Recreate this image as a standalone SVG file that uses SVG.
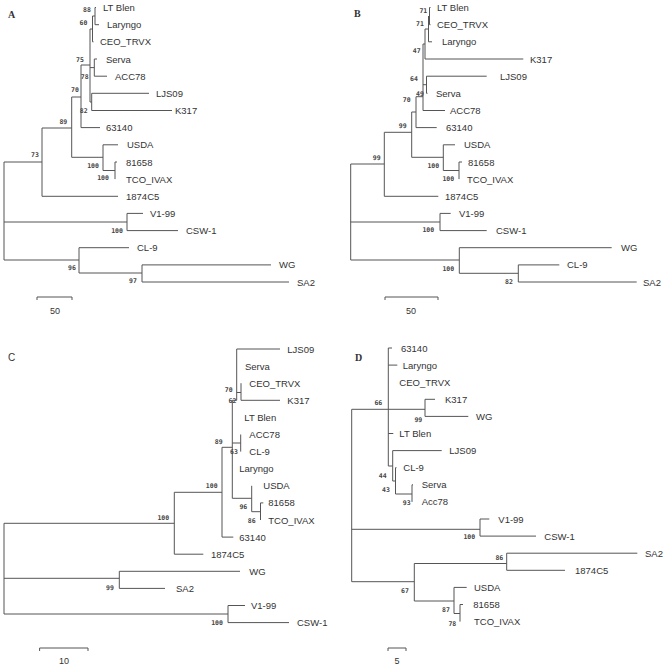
<svg xmlns="http://www.w3.org/2000/svg" width="666" height="665" viewBox="0 0 666 665">
<style>
.br{fill:none;stroke:#555;stroke-width:1}
.t{font-family:"Liberation Sans",Arial,sans-serif;font-size:9.5px;fill:#333}
.b{font-family:"DejaVu Sans Mono","Liberation Mono",monospace;font-size:6.5px;font-weight:bold;fill:#444;text-anchor:middle}
.ps{font-family:"Liberation Serif",serif;font-size:10px;font-weight:bold;fill:#333}
.pc{font-family:"Liberation Sans",sans-serif;font-size:10px;fill:#333}
.sc{font-family:"Liberation Sans",sans-serif;font-size:9px;fill:#333;text-anchor:middle}
</style>
<rect width="666" height="665" fill="#fff"/>
<g id="connectors">
<path class="br" d="M95,7.5V24.7M95,7.5H96M95,24.7H99M92.5,16V41.8M92.5,16H95M92.5,41.8H93.5M94.3,59V76.2M94.3,59H97M94.3,76.2H107M91.7,93.3V110.5M91.7,93.3H149M91.7,110.5H172M90,29V102M90,29H92.5M90,67.6H94.3M90,102H91.7M81,65V127.6M81,65H90M81,127.6H100M71.7,97V157.3M71.7,97H81M71.7,157.3H103M103,144.8V170.5M103,144.8H118M103,170.5H115M115,162V179.1M115,162H117M42,128V196.3M42,128H71.7M42,196.3H118M4,162V260M4,162H42M4,222H127M4,260H79M127,213.4V230.6M127,213.4H143M127,230.6H178M79,247.7V273M79,247.7H129M79,273H142M142,264.9V282M142,264.9H271M142,282H289"/>
<path class="br" d="M429.5,7.5V24.7M429.5,7.5H430.5M429.5,24.7H430.5M428.5,16V41.8M428.5,41.8H432M425,29V59M425,29H428.5M425,59H523.3M426.5,76.2V93.3M426.5,76.2H486.7M426.5,93.3H427.5M423,44V110.5M423,44H425M423,84.7H426.5M423,110.5H445M416,96.7V127.6M416,96.7H423M416,127.6H436.7M411.7,112V157.3M411.7,112H416M411.7,157.3H443.3M443.3,144.8V170.5M443.3,144.8H455M443.3,170.5H459M459,162V179.1M459,162H462M384.3,132.3V196.3M384.3,132.3H411.7M384.3,196.3H438.3M350.7,164V260M350.7,164H384.3M350.7,222H440M350.7,260H459.3M440,213.4V230.6M440,213.4H450.7M440,230.6H486.7M459.3,247.7V273.3M459.3,247.7H611.7M459.3,273.3H518.3M518.3,264.9V282M518.3,264.9H559.3M518.3,282H636.7"/>
<path class="br" d="M236.7,349H280M236.7,349V400.3M241,383.2V400.3M236.7,392.5H241M241,400.3H280M232.3,400.3H236.7M232.3,400.3V498.3M240.7,434.5V451.6M232.3,443H240.7M232.3,498.3H251.7M251.7,485.8V511.7M251.7,511.7H260.5M260.5,502.9V520M260.5,502.9H263.3M222,447.3H232.3M222,447.3V537.1M222,537.1H233.3M174.3,492.3H222M174.3,492.3V554.2M174.3,554.2H203.3M4,523.3H174.3M4,523.3V614M4,578.3H119.3M119.3,571.3V588.4M119.3,571.3H240M119.3,588.4H165M4,614H228M228,605.5V622.6M228,605.5H245M228,622.6H289"/>
<path class="br" d="M388.3,348V466M388.3,348H392M388.3,365.1H397.3M388.3,433.5H393.3M351.7,409.3H425M425,399.3V416.4M425,399.3H435M425,416.4H468.3M388.3,466H392.7M392.7,450.6V481M392.7,450.6H441.7M392.7,481H395.5M395.5,467.7V494M395.5,467.7H396.5M395.5,494H412M412,484.8V501.9M412,484.8H413M351.7,409.3V581.7M351.7,529.3H480M480,519V536.1M480,519H489.3M480,536.1H536M351.7,581.7H414.3M414.3,563.5V601M414.3,563.5H506.7M506.7,553.2V570.3M506.7,553.2H637.3M506.7,570.3H565M414.3,601H454M454,587.4V613.5M454,587.4H466.7M454,613.5H460M460,604.5V621.6M460,604.5H463"/>
<path class="br" d="M37,297H72M37,297V300M72,297V300M385,297H438M385,297V300M438,297V300M39.6,648H88M39.6,648V651M88,648V651M388,648H406M388,648V651M406,648V651"/>
</g>
<g id="panel-letters">
<text class="ps" x="8" y="18">A</text>
<text class="ps" x="354" y="17">B</text>
<text class="pc" x="8" y="361">C</text>
<text class="ps" x="355" y="361">D</text>
</g>
<g id="scale-labels">
<text class="sc" x="55" y="314">50</text>
<text class="sc" x="411" y="314">50</text>
<text class="sc" x="64" y="664">10</text>
<text class="sc" x="397" y="664">5</text>
</g>
<g id="tips-A" class="t">
<g id="A-LTBlen"><text x="103" y="11">LT Blen</text></g>
<g id="A-Laryngo"><text x="107" y="28.2">Laryngo</text></g>
<g id="A-CEO"><text x="100" y="45.3">CEO_TRVX</text></g>
<g id="A-Serva"><text x="106" y="62.5">Serva</text></g>
<g id="A-ACC78"><text x="115" y="79.7">ACC78</text></g>
<g id="A-LJS09"><text x="156" y="96.8">LJS09</text></g>
<g id="A-K317"><text x="175" y="114">K317</text></g>
<g id="A-63140"><text x="106" y="131.1">63140</text></g>
<g id="A-USDA"><text x="127" y="148.3">USDA</text></g>
<g id="A-81658"><text x="126" y="165.5">81658</text></g>
<g id="A-TCO"><text x="126" y="182.6">TCO_IVAX</text></g>
<g id="A-1874C5"><text x="126" y="199.8">1874C5</text></g>
<g id="A-V199"><text x="150" y="216.9">V1-99</text></g>
<g id="A-CSW1"><text x="186" y="234.1">CSW-1</text></g>
<g id="A-CL9"><text x="137" y="251.2">CL-9</text></g>
<g id="A-WG"><text x="279" y="268.4">WG</text></g>
<g id="A-SA2"><text x="297" y="285.5">SA2</text></g>
</g>
<g id="boot-A" class="b">
<text x="87" y="12.3">88</text><text x="83.5" y="25.3">60</text><text x="80" y="62.3">75</text><text x="84.7" y="78.5">78</text><text x="75" y="92.3">70</text><text x="83.7" y="113">82</text><text x="63.3" y="124">89</text><text x="35" y="157.3">73</text><text x="93" y="168.3">100</text><text x="103" y="180.3">100</text><text x="117" y="233.3">100</text><text x="72" y="270.3">96</text><text x="133" y="283.3">97</text>
</g>
<g id="tips-B" class="t">
<g id="B-LTBlen"><text x="437" y="11">LT Blen</text></g>
<g id="B-CEO"><text x="437" y="28.2">CEO_TRVX</text></g>
<g id="B-Laryngo"><text x="442" y="45.3">Laryngo</text></g>
<g id="B-K317"><text x="530" y="62.5">K317</text></g>
<g id="B-LJS09"><text x="500" y="79.7">LJS09</text></g>
<g id="B-Serva"><text x="436" y="96.8">Serva</text></g>
<g id="B-ACC78"><text x="450" y="114">ACC78</text></g>
<g id="B-63140"><text x="446" y="131.1">63140</text></g>
<g id="B-USDA"><text x="464" y="148.3">USDA</text></g>
<g id="B-81658"><text x="468" y="165.5">81658</text></g>
<g id="B-TCO"><text x="467" y="182.6">TCO_IVAX</text></g>
<g id="B-1874C5"><text x="445" y="199.8">1874C5</text></g>
<g id="B-V199"><text x="459" y="216.9">V1-99</text></g>
<g id="B-CSW1"><text x="496" y="234.1">CSW-1</text></g>
<g id="B-WG"><text x="621" y="251.2">WG</text></g>
<g id="B-CL9"><text x="567" y="268.4">CL-9</text></g>
<g id="B-SA2"><text x="643" y="285.5">SA2</text></g>
</g>
<g id="boot-B" class="b">
<text x="423.3" y="13">71</text><text x="420" y="25.6">71</text><text x="416.7" y="53">47</text><text x="414" y="80.5">64</text><text x="420" y="95.6">49</text><text x="406.7" y="102.3">70</text><text x="402.7" y="128.3">99</text><text x="433.3" y="168">100</text><text x="448.3" y="180.6">100</text><text x="376.7" y="160.3">99</text><text x="428.3" y="232.3">100</text><text x="448.3" y="270.6">100</text><text x="509" y="284">82</text>
</g>
<g id="tips-C" class="t">
<g id="C-LJS09"><text x="287.3" y="352.5">LJS09</text></g>
<g id="C-Serva"><text x="245" y="369.6">Serva</text></g>
<g id="C-CEO"><text x="249.3" y="386.7">CEO_TRVX</text></g>
<g id="C-K317"><text x="287.3" y="403.8">K317</text></g>
<g id="C-LTBlen"><text x="244.3" y="420.9">LT Blen</text></g>
<g id="C-ACC78"><text x="249.3" y="438">ACC78</text></g>
<g id="C-CL9"><text x="249.3" y="455.1">CL-9</text></g>
<g id="C-Laryngo"><text x="239.3" y="472.2">Laryngo</text></g>
<g id="C-USDA"><text x="263.3" y="489.3">USDA</text></g>
<g id="C-81658"><text x="268.3" y="506.4">81658</text></g>
<g id="C-TCO"><text x="268.3" y="523.5">TCO_IVAX</text></g>
<g id="C-63140"><text x="239.3" y="540.6">63140</text></g>
<g id="C-1874C5"><text x="211" y="557.7">1874C5</text></g>
<g id="C-WG"><text x="249.3" y="574.8">WG</text></g>
<g id="C-SA2"><text x="176" y="591.9">SA2</text></g>
<g id="C-V199"><text x="251" y="609">V1-99</text></g>
<g id="C-CSW1"><text x="297" y="626.1">CSW-1</text></g>
</g>
<g id="boot-C" class="b">
<text x="228.7" y="391.6">70</text><text x="232.5" y="402.8">62</text><text x="218.7" y="444">89</text><text x="234" y="454">63</text><text x="243.3" y="509">96</text><text x="251.7" y="522.6">86</text><text x="211.7" y="488.3">100</text><text x="163.3" y="519.6">100</text><text x="110" y="590">99</text><text x="217" y="625.3">100</text>
</g>
<g id="tips-D" class="t">
<g id="D-63140"><text x="401" y="351.5">63140</text></g>
<g id="D-Laryngo"><text x="402.7" y="368.6">Laryngo</text></g>
<g id="D-CEO"><text x="399.3" y="385.7">CEO_TRVX</text></g>
<g id="D-K317"><text x="445" y="402.8">K317</text></g>
<g id="D-WG"><text x="476" y="419.9">WG</text></g>
<g id="D-LTBlen"><text x="399.3" y="437">LT Blen</text></g>
<g id="D-LJS09"><text x="449.3" y="454.1">LJS09</text></g>
<g id="D-CL9"><text x="403.3" y="471.2">CL-9</text></g>
<g id="D-Serva"><text x="421.7" y="488.3">Serva</text></g>
<g id="D-Acc78"><text x="421.7" y="505.4">Acc78</text></g>
<g id="D-V199"><text x="498.3" y="522.5">V1-99</text></g>
<g id="D-CSW1"><text x="544.3" y="539.6">CSW-1</text></g>
<g id="D-SA2"><text x="645" y="556.7">SA2</text></g>
<g id="D-1874C5"><text x="575" y="573.8">1874C5</text></g>
<g id="D-USDA"><text x="474" y="590.9">USDA</text></g>
<g id="D-81658"><text x="473.3" y="608">81658</text></g>
<g id="D-TCO"><text x="474" y="625.1">TCO_IVAX</text></g>
</g>
<g id="boot-D" class="b">
<text x="378.3" y="404.6">66</text><text x="418.3" y="421.6">99</text><text x="382.7" y="477.8">44</text><text x="386" y="492.3">43</text><text x="406.7" y="505">93</text><text x="469.3" y="539">100</text><text x="499.3" y="559.6">86</text><text x="405" y="593">67</text><text x="446" y="611.6">87</text><text x="452.3" y="625.6">78</text>
</g>
</svg>
